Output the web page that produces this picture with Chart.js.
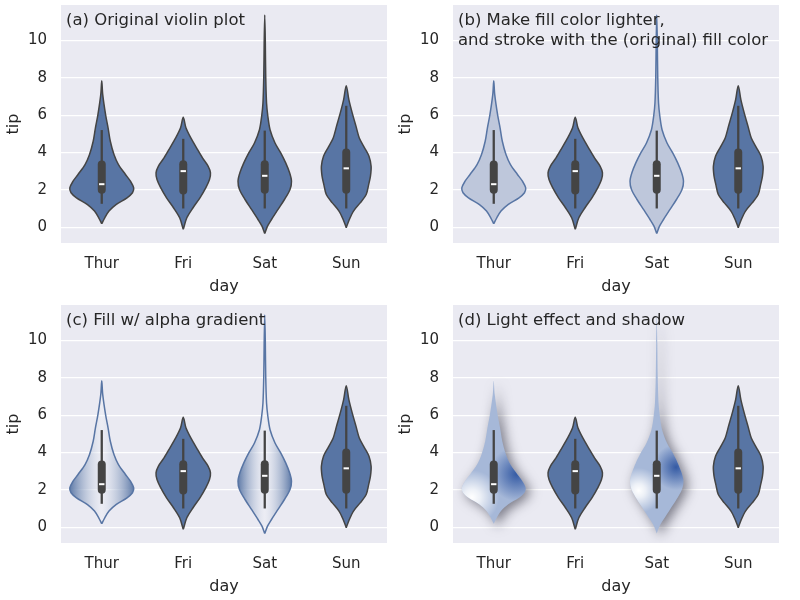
<!DOCTYPE html>
<html><head><meta charset="utf-8">
<script src="https://cdn.jsdelivr.net/npm/chart.js@4.4.1/dist/chart.umd.min.js"></script>
<style>
html,body{margin:0;padding:0;background:#fff;}
#wrap{position:relative;width:800px;height:600px;overflow:hidden;background:#fff;}
canvas{position:absolute;}
.note{position:absolute;font-family:'DejaVu Sans';font-size:16.5px;line-height:20px;color:#262626;white-space:nowrap;}
</style></head><body>
<div id="wrap">
<canvas id="ca" width="400" height="300" style="left:0;top:0"></canvas>
<canvas id="cb" width="400" height="300" style="left:392px;top:0"></canvas>
<canvas id="cc" width="400" height="300" style="left:0;top:300px"></canvas>
<canvas id="cd" width="400" height="300" style="left:392px;top:300px"></canvas>
<div class="note" style="left:66px;top:10px">(a) Original violin plot</div>
<div class="note" style="left:458px;top:10px">(b) Make fill color lighter,<br>and stroke with the (original) fill color</div>
<div class="note" style="left:66px;top:310px">(c) Fill w/ alpha gradient</div>
<div class="note" style="left:458px;top:310px">(d) Light effect and shadow</div>
</div>
<script>
// ---- data ----
const days = ['Thur', 'Fri', 'Sat', 'Sun'];
const yTicks = [0, 2, 4, 6, 8, 10];

const thurLevels    = [0.18, 0.5, 0.86, 1.21, 1.57, 1.84, 2.1, 2.46, 2.82, 3.35, 3.89, 4.6, 5.31, 6.03, 7.1, 7.84];
const thurHalfWidth = [0, 0.037, 0.089, 0.175, 0.31, 0.377, 0.392, 0.352, 0.291, 0.205, 0.15, 0.105, 0.078, 0.047, 0.012, 0];

const friLevels     = [-0.12, 0.5, 1.04, 1.57, 2.1, 2.55, 2.91, 3.26, 3.71, 4.25, 4.78, 5.31, 5.88];
const friHalfWidth  = [0, 0.044, 0.12, 0.205, 0.276, 0.322, 0.334, 0.306, 0.236, 0.163, 0.093, 0.034, 0];

const satLevels     = [-0.34, 0.05, 0.41, 0.95, 1.48, 2.02, 2.46, 2.91, 3.44, 3.98, 4.51, 5.22, 5.94, 6.65, 8.07, 9.86, 11.37];
const satHalfWidth  = [0, 0.034, 0.083, 0.163, 0.242, 0.31, 0.328, 0.305, 0.257, 0.196, 0.126, 0.065, 0.038, 0.022, 0.012, 0.007, 0];

const sunLevels     = [-0.03, 0.41, 0.86, 1.3, 1.75, 2.28, 2.73, 3.26, 3.8, 4.25, 4.78, 5.4, 6.12, 6.83, 7.58];
const sunHalfWidth  = [0, 0.038, 0.089, 0.171, 0.245, 0.275, 0.297, 0.305, 0.279, 0.224, 0.16, 0.12, 0.073, 0.032, 0];

const whiskerLow  = [1.25, 1.0, 1.0, 1.0];
const whiskerHigh = [5.2, 4.73, 5.17, 6.5];
const quartile1   = [2.0, 1.96, 2.0, 2.0];
const quartile3   = [3.36, 3.37, 3.37, 4.0];
const medians     = [2.3, 3.0, 2.75, 3.15];

const allLevels = [thurLevels, friLevels, satLevels, sunLevels];
const allHalf   = [thurHalfWidth, friHalfWidth, satHalfWidth, sunHalfWidth];

// ---- styles ----
const BLUE = '#5875a4';
const LIGHT = '#bec7db';
const GRAY = '#444444';
const TXT = '#262626';
const FONT = 'DejaVu Sans';

function violinPoints(levels, half, day) {
  const pts = [];
  for (let k = 0; k < levels.length; k++) pts.push({x: day + half[k], y: levels[k]});
  for (let k = levels.length - 2; k >= 0; k--) pts.push({x: day - half[k], y: levels[k]});
  return pts;
}
function peakIndex(half) {
  let m = 0;
  for (let k = 1; k < half.length; k++) if (half[k] > half[m]) m = k;
  return m;
}

const bgPlugin = {
  id: 'panelBg',
  beforeDraw(chart) {
    const {ctx, chartArea: a} = chart;
    ctx.save();
    ctx.fillStyle = '#eaeaf2';
    ctx.fillRect(a.left, a.top, a.right - a.left, a.bottom - a.top);
    ctx.restore();
  }
};

const shadePlugin = {
  id: 'lightShade',
  beforeDatasetDraw(chart, args) {
    const ds = chart.data.datasets[args.index];
    if (!ds.shade) return;
    const line = args.meta.dataset;
    const ctx = chart.ctx;
    const a = chart.chartArea;
    const xs = chart.scales.x, ys = chart.scales.y;
    const cx = xs.getPixelForValue(ds.day);
    const wPx = xs.getPixelForValue(ds.day + ds.maxHalf) - cx;
    const yPeak = ys.getPixelForValue(ds.peakLevel);
    const unit = ys.getPixelForValue(0) - ys.getPixelForValue(1);
    const shape = () => { ctx.beginPath(); line.path(ctx); ctx.closePath(); };
    ctx.save();
    ctx.beginPath(); ctx.rect(a.left, a.top, a.right - a.left, a.bottom - a.top); ctx.clip();
    ctx.shadowColor = 'rgba(30,30,45,0.55)';
    ctx.shadowBlur = 12; ctx.shadowOffsetX = 4; ctx.shadowOffsetY = 3;
    shape(); ctx.fillStyle = '#a6b8d8'; ctx.fill();
    ctx.shadowColor = 'rgba(0,0,0,0)'; ctx.shadowBlur = 0; ctx.shadowOffsetX = 0; ctx.shadowOffsetY = 0;
    const wx = cx - 0.68 * wPx, wy = yPeak + 0.5 * unit;
    let g = ctx.createRadialGradient(wx, wy, 0, wx, wy, 0.85 * wPx);
    g.addColorStop(0, 'rgba(255,255,255,1)');
    g.addColorStop(0.3, 'rgba(255,255,255,0.8)');
    g.addColorStop(1, 'rgba(255,255,255,0)');
    shape(); ctx.fillStyle = g; ctx.fill();
    const dx = cx + 0.72 * wPx, dy = yPeak - 0.75 * unit;
    g = ctx.createRadialGradient(dx, dy, 0, dx, dy, 0.85 * wPx);
    g.addColorStop(0, 'rgba(40,80,158,0.9)');
    g.addColorStop(0.45, 'rgba(40,80,158,0.5)');
    g.addColorStop(1, 'rgba(40,80,158,0)');
    shape(); ctx.fillStyle = g; ctx.fill();
    ctx.restore();
  }
};

function alphaGradient(c) {
  const chart = c.chart;
  const d = c.dataset;
  if (!chart.chartArea || !chart.scales.x) return 'rgba(88,117,164,0.5)';
  const xs = chart.scales.x;
  const x0 = xs.getPixelForValue(d.day - d.maxHalf);
  const x1 = xs.getPixelForValue(d.day + d.maxHalf);
  const g = chart.ctx.createLinearGradient(x0, 0, x1, 0);
  g.addColorStop(0, 'rgba(88,117,164,0.95)');
  g.addColorStop(0.5, 'rgba(240,242,248,0.3)');
  g.addColorStop(1, 'rgba(88,117,164,0.95)');
  return g;
}

function buildDatasets(variant) {
  const sets = [];
  days.forEach((name, i) => {
    const special = (i === 0 || i === 2);
    const pk = peakIndex(allHalf[i]);
    const v = {
      label: name, day: i, maxHalf: allHalf[i][pk], peakLevel: allLevels[i][pk],
      data: violinPoints(allLevels[i], allHalf[i], i),
      showLine: true, tension: 0.3, pointRadius: 0, pointHoverRadius: 0,
      borderWidth: 1.5, borderColor: GRAY, backgroundColor: BLUE, fill: 'shape',
      borderJoinStyle: 'round', order: 3
    };
    if (special && variant === 'b') { v.backgroundColor = LIGHT; v.borderColor = BLUE; }
    if (special && variant === 'c') { v.backgroundColor = alphaGradient; v.borderColor = BLUE; }
    if (special && variant === 'd') { v.shade = true; v.fill = false; v.borderWidth = 0; v.borderColor = 'rgba(0,0,0,0)'; }
    sets.push(v);
    sets.push({ data: [{x: i, y: whiskerLow[i]}, {x: i, y: whiskerHigh[i]}], showLine: true, pointRadius: 0,
      borderColor: GRAY, borderWidth: 2.3, fill: false, order: 2 });
    sets.push({ data: [{x: i, y: quartile1[i]}, {x: i, y: quartile3[i]}], showLine: true, pointRadius: 0,
      borderColor: GRAY, borderWidth: 8, borderCapStyle: 'round', fill: false, order: 1 });
    sets.push({ data: [{x: i - 0.033, y: medians[i]}, {x: i + 0.033, y: medians[i]}], showLine: true, pointRadius: 0,
      borderColor: '#ffffff', borderWidth: 2, fill: false, order: 0 });
  });
  return sets;
}

function makePanel(id, variant) {
  new Chart(document.getElementById(id), {
    type: 'scatter',
    data: { datasets: buildDatasets(variant) },
    options: {
      responsive: false, animation: false, devicePixelRatio: 1,
      layout: { padding: { left: 0, right: 13, top: 5, bottom: 0 } },
      plugins: { legend: { display: false }, tooltip: { enabled: false } },
      events: [],
      scales: {
        x: {
          type: 'linear', min: -0.5, max: 3.5,
          afterBuildTicks: s => { s.ticks = days.map((d, i) => ({ value: i })); },
          afterFit: s => { s.height = 57; s.paddingLeft = 0; s.paddingRight = 0; },
          ticks: { callback: v => days[Math.round(v)], color: TXT, font: { family: FONT, size: 15 }, padding: 4, maxRotation: 0, autoSkip: false },
          grid: { display: false }, border: { display: false },
          title: { display: true, text: 'day', color: TXT, font: { family: FONT, size: 16 }, padding: { top: 4, bottom: 4 } }
        },
        y: {
          type: 'linear', min: -0.85, max: 11.9,
          afterBuildTicks: s => { s.ticks = yTicks.map(v => ({ value: v })); },
          afterFit: s => { s.width = 61; s.paddingTop = 0; s.paddingBottom = 0; },
          ticks: { color: TXT, font: { family: FONT, size: 15 }, padding: 14 },
          grid: { color: '#ffffff', lineWidth: 1.2, drawTicks: false }, border: { display: false },
          title: { display: true, text: 'tip', color: TXT, font: { family: FONT, size: 16 }, padding: { top: 4, bottom: 4 } }
        }
      }
    },
    plugins: [bgPlugin, shadePlugin]
  });
}

makePanel('ca', 'a');
makePanel('cb', 'b');
makePanel('cc', 'c');
makePanel('cd', 'd');
</script>
</body></html>
